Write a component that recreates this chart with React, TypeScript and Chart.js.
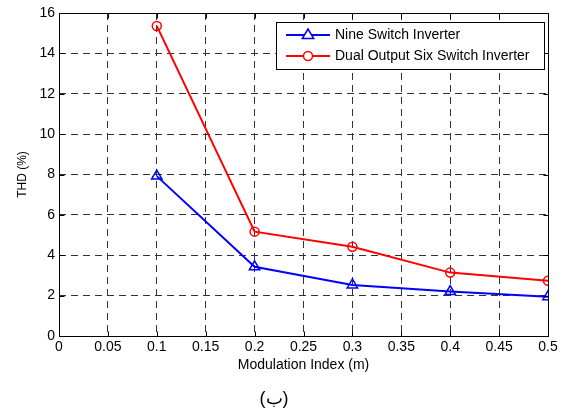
import React, { useEffect, useRef } from "react";
import { Chart, registerables } from "chart.js";

Chart.register(...registerables);

// THD versus modulation index for both inverter topologies
const modulationIndex = [0.1, 0.2, 0.3, 0.4, 0.5];
const thdNineSwitch = [7.92, 3.43, 2.53, 2.2, 1.95];
const thdDualOutput = [15.36, 5.17, 4.42, 3.14, 2.74];

const seriesLabels = ["Nine Switch Inverter", "Dual Output Six Switch Inverter"];
const xTickLabels = ["0", "0.05", "0.1", "0.15", "0.2", "0.25", "0.3", "0.35", "0.4", "0.45", "0.5"];
const yTickLabels = ["0", "2", "4", "6", "8", "10", "12", "14", "16"];

const FONT = "'Liberation Sans', Arial, sans-serif";

// MATLAB-style frame with inward tick marks on all four sides, plus a boxed legend
const framePlugin = {
  id: "matlabFrame",
  afterDraw(chart: any) {
    const { ctx, chartArea } = chart;
    const { left, right, top, bottom } = chartArea;
    const xs = chart.scales.x;
    const ys = chart.scales.y;
    const L = Math.round(left) + 0.5;
    const R = Math.round(right) + 0.5;
    const T = Math.round(top) + 0.5;
    const B = Math.round(bottom) + 0.5;
    const tl = 5;
    ctx.save();
    ctx.strokeStyle = "#000";
    ctx.lineWidth = 1;
    ctx.setLineDash([]);
    ctx.beginPath();
    xs.ticks.forEach((t: any) => {
      const p = Math.round(xs.getPixelForValue(t.value)) + 0.5;
      ctx.moveTo(p, B);
      ctx.lineTo(p, B - tl);
      ctx.moveTo(p, T);
      ctx.lineTo(p, T + tl);
    });
    ys.ticks.forEach((t: any) => {
      const p = Math.round(ys.getPixelForValue(t.value)) + 0.5;
      ctx.moveTo(L, p);
      ctx.lineTo(L + tl, p);
      ctx.moveTo(R, p);
      ctx.lineTo(R - tl, p);
    });
    ctx.stroke();
    ctx.strokeRect(L, T, R - L, B - T);

    // legend box
    const boxL = 276.5;
    const boxT = 22.5;
    const boxR = 544.5;
    const boxB = 69.5;
    ctx.fillStyle = "#fff";
    ctx.fillRect(boxL, boxT, boxR - boxL, boxB - boxT);
    ctx.strokeRect(boxL, boxT, boxR - boxL, boxB - boxT);
    const rows = [35, 56];
    chart.data.datasets.forEach((ds: any, i: number) => {
      const y = rows[i];
      ctx.strokeStyle = ds.borderColor;
      ctx.lineWidth = 2;
      ctx.beginPath();
      ctx.moveTo(286, y);
      ctx.lineTo(330, y);
      ctx.stroke();
      ctx.lineWidth = 1.5;
      ctx.beginPath();
      const cx = 308;
      if (ds.pointStyle === "triangle") {
        const r = ds.pointRadius;
        ctx.moveTo(cx, y - r);
        ctx.lineTo(cx + r * 0.95, y + r * 0.6);
        ctx.lineTo(cx - r * 0.95, y + r * 0.6);
        ctx.closePath();
      } else {
        ctx.arc(cx, y, ds.pointRadius, 0, Math.PI * 2);
      }
      ctx.fillStyle = "#fff";
      ctx.fill();
      ctx.stroke();
      ctx.fillStyle = "#000";
      ctx.font = `14px ${FONT}`;
      ctx.textAlign = "left";
      ctx.textBaseline = "middle";
      ctx.fillText(ds.label, 335, y + 0.5);
    });
    ctx.restore();
  },
};

export default function App() {
  const canvasRef = useRef<HTMLCanvasElement | null>(null);

  useEffect(() => {
    const canvas = canvasRef.current;
    if (!canvas) return;
    const chart = new Chart(canvas, {
      type: "line",
      data: {
        datasets: [
          {
            label: seriesLabels[0],
            data: modulationIndex.map((m, i) => ({ x: m, y: thdNineSwitch[i] })),
            borderColor: "#0000ff",
            backgroundColor: "rgba(0,0,0,0)",
            borderWidth: 2,
            pointStyle: "triangle",
            pointRadius: 6,
            pointBorderWidth: 1.5,
            pointBackgroundColor: "rgba(0,0,0,0)",
            pointBorderColor: "#0000ff",
          },
          {
            label: seriesLabels[1],
            data: modulationIndex.map((m, i) => ({ x: m, y: thdDualOutput[i] })),
            borderColor: "#ff0000",
            backgroundColor: "rgba(0,0,0,0)",
            borderWidth: 2,
            pointStyle: "circle",
            pointRadius: 4.5,
            pointBorderWidth: 1.5,
            pointBackgroundColor: "rgba(0,0,0,0)",
            pointBorderColor: "#ff0000",
          },
        ],
      },
      options: {
        responsive: false,
        animation: false,
        layout: { padding: { top: 13, right: 14, left: 0, bottom: 0 } },
        plugins: {
          legend: { display: false },
          tooltip: { enabled: false },
          title: {
            display: true,
            position: "bottom",
            text: "(ب)",
            color: "#000",
            font: { family: FONT, size: 18, weight: "normal" },
            padding: { top: 0, bottom: 4 },
          },
        },
        scales: {
          x: {
            type: "linear",
            min: 0,
            max: 0.5,
            afterFit: (s: any) => {
              s.height = 52.4;
            },
            ticks: {
              stepSize: 0.05,
              padding: 3,
              color: "#000",
              font: { family: FONT, size: 14 },
              maxRotation: 0,
              autoSkip: false,
              callback: (_v: any, i: number) => xTickLabels[i],
            },
            grid: { color: "#333", lineWidth: 1, drawTicks: false },
            border: { display: false, dash: [7, 5] },
            title: {
              display: true,
              text: "Modulation Index (m)",
              color: "#000",
              font: { family: FONT, size: 14 },
              padding: { top: 0, bottom: 15 },
            },
          },
          y: {
            type: "linear",
            min: 0,
            max: 16,
            afterFit: (s: any) => {
              s.width = 59;
            },
            ticks: {
              stepSize: 2,
              padding: 4,
              color: "#000",
              font: { family: FONT, size: 14 },
              autoSkip: false,
              callback: (_v: any, i: number) => yTickLabels[i],
            },
            grid: { color: "#333", lineWidth: 1, drawTicks: false },
            border: { display: false, dash: [7, 5] },
            title: {
              display: true,
              text: "THD (%)",
              color: "#000",
              font: { family: FONT, size: 12 },
              padding: { top: 15, bottom: 0 },
            },
          },
        },
      },
      plugins: [framePlugin],
    });
    return () => chart.destroy();
  }, []);

  return (
    <div style={{ position: "fixed", left: 0, top: 0, width: 562, height: 414, background: "#fff" }}>
      <canvas ref={canvasRef} width={562} height={414} style={{ display: "block", width: 562, height: 414 }} />
    </div>
  );
}
